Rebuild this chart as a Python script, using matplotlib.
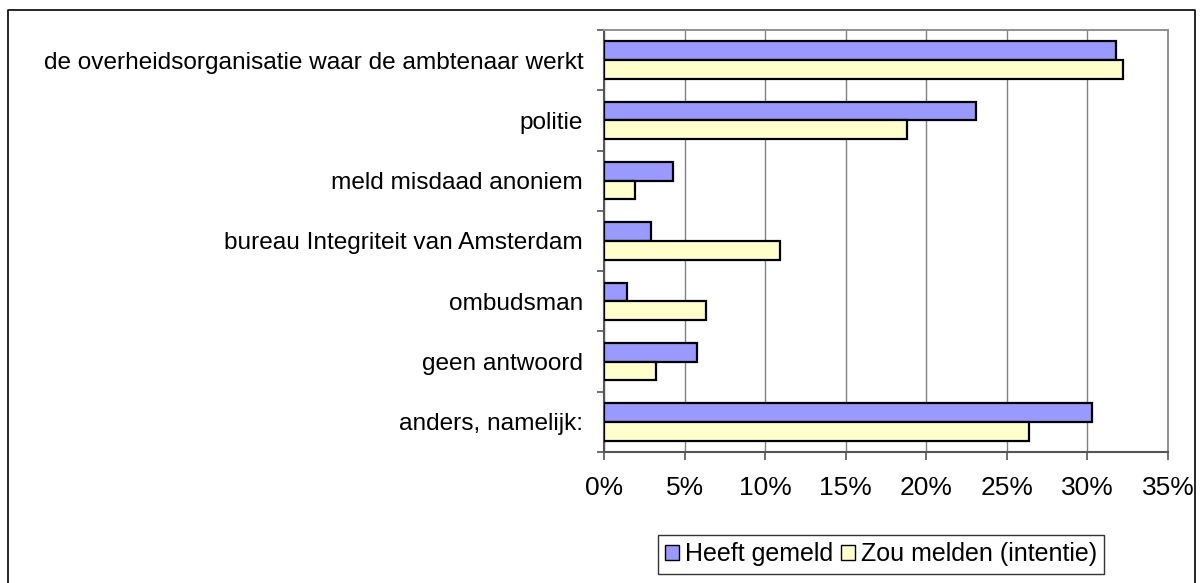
import matplotlib
matplotlib.use("Agg")
import matplotlib.pyplot as plt
import numpy as np
from matplotlib.lines import Line2D

categories = [
    "de overheidsorganisatie waar de ambtenaar werkt",
    "politie",
    "meld misdaad anoniem",
    "bureau Integriteit van Amsterdam",
    "ombudsman",
    "geen antwoord",
    "anders, namelijk:",
]
heeft_gemeld = [31.8, 23.1, 4.3, 2.9, 1.4, 5.8, 30.3]
zou_melden = [32.2, 18.8, 1.9, 10.9, 6.3, 3.2, 26.4]
series_names = ["Heeft gemeld", "Zou melden (intentie)"]
xticks = [0, 5, 10, 15, 20, 25, 30, 35]
xtick_labels = ["0%", "5%", "10%", "15%", "20%", "25%", "30%", "35%"]

plt.rcParams['font.family'] = ['Liberation Sans', 'DejaVu Sans']

W, H = 1203, 583
fig = plt.figure(figsize=(W / 100, H / 100), dpi=100)
ax = fig.add_axes([604 / W, 1 - 452 / H, (1168 - 604) / W, (452 - 30) / H])

n = len(categories)
y = np.arange(n)
bh = 0.31
blue = "#9999FF"
yellow = "#FFFFCC"
ax.barh(y - bh / 2, heeft_gemeld, height=bh, color=blue, edgecolor="black",
        linewidth=1.6, label=series_names[0], zorder=3)
ax.barh(y + bh / 2, zou_melden, height=bh, color=yellow, edgecolor="black",
        linewidth=1.6, label=series_names[1], zorder=3)

ax.set_xlim(0, 35)
ax.set_ylim(n - 0.5, -0.5)
ax.set_xticks(xticks)
ax.set_xticklabels(xtick_labels, fontsize=19)
ax.set_yticks(np.arange(-0.5, n, 1.0))
ax.set_yticklabels([])
ax.set_yticks(y, minor=True)
ax.set_yticklabels(categories, minor=True, fontsize=17.6)
ax.tick_params(axis='y', which='minor', length=0, pad=15)
ax.tick_params(axis='y', which='major', length=5, width=1.2, color="#555555", direction='out')
ax.tick_params(axis='x', length=6, width=1.2, color="#555555", direction='out', pad=11)

ax.grid(axis='x', color="#808080", linewidth=1, zorder=0)
for s in ["top", "right"]:
    ax.spines[s].set_color("#909090")
    ax.spines[s].set_linewidth(1.4)
for s in ["left", "bottom"]:
    ax.spines[s].set_color("#555555")
    ax.spines[s].set_linewidth(1.5)

leg = fig.legend(loc="center", bbox_to_anchor=((655 + 1107) / 2 / W, 1 - 554 / H),
                 ncol=2, fontsize=18, frameon=True, fancybox=False, edgecolor="black",
                 handlelength=0.55, handleheight=0.55, handletextpad=0.25, columnspacing=0.3,
                 borderpad=0.3, borderaxespad=0)
leg.get_frame().set_linewidth(1)
for h in leg.legend_handles:
    h.set_linewidth(1)

# outer chart frame (left, top, right; bottom lies outside the image)
bx0, bx1, by0 = 7.5 / W, 1194.5 / W, 1 - 9.5 / H
fig.add_artist(Line2D([bx0, bx0, bx1, bx1], [0, by0, by0, 0], transform=fig.transFigure,
                      color="black", linewidth=1.2))

fig.savefig("out.png", dpi=100)
